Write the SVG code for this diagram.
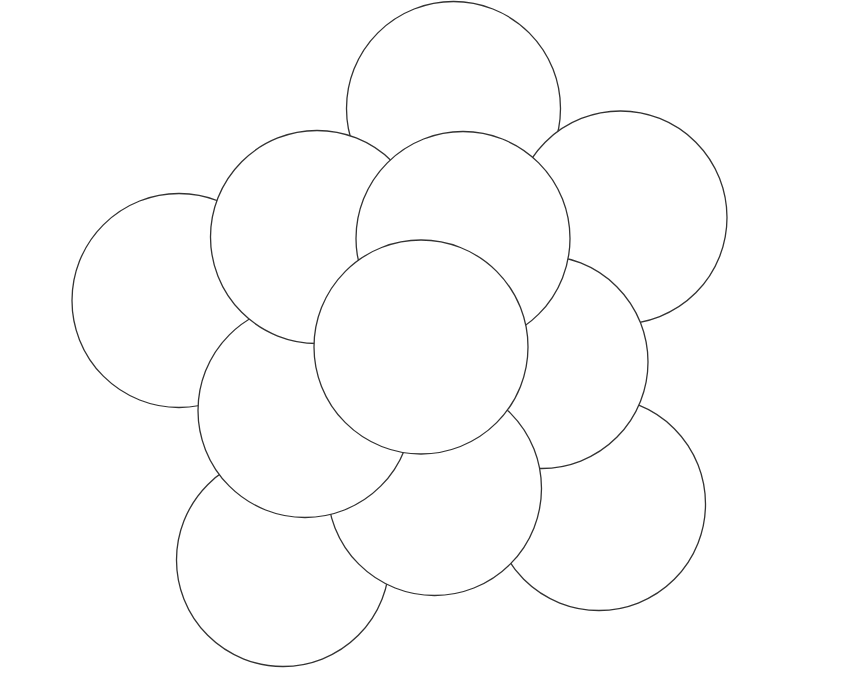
<svg xmlns="http://www.w3.org/2000/svg" width="865" height="673" viewBox="0 0 865 673">
<style>
.c{fill:#ffffff;stroke:#333333;stroke-width:1.3}
</style>
<rect width="865" height="673" fill="#ffffff"/>
<g id="circles">
<circle id="c1" class="c" cx="453.5" cy="108.5" r="107"/>
<circle id="c3" class="c" cx="179" cy="300.5" r="107"/>
<circle id="c2" class="c" cx="620.5" cy="217.5" r="106.5"/>
<circle id="c10" class="c" cx="599" cy="504" r="106.5"/>
<circle id="c11" class="c" cx="283" cy="560" r="106.5"/>
<circle id="c6" class="c" cx="541.5" cy="362" r="106.5"/>
<circle id="c9" class="c" cx="434.5" cy="488.5" r="107"/>
<circle id="c8" class="c" cx="305" cy="410.5" r="107"/>
<circle id="c4" class="c" cx="317" cy="237" r="106.5"/>
<circle id="c5" class="c" cx="463" cy="238.5" r="107"/>
<circle id="c7" class="c" cx="421" cy="347" r="107"/>
</g>
</svg>
